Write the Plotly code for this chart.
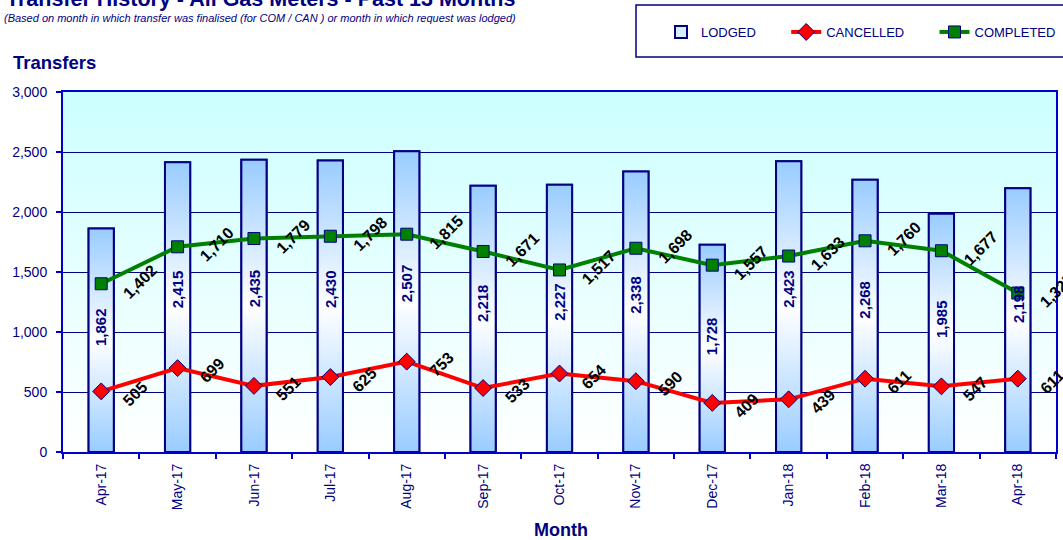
import base64
import plotly.graph_objects as go

months = ["Apr-17", "May-17", "Jun-17", "Jul-17", "Aug-17", "Sep-17", "Oct-17",
          "Nov-17", "Dec-17", "Jan-18", "Feb-18", "Mar-18", "Apr-18"]
lodged = [1862, 2415, 2435, 2430, 2507, 2218, 2227, 2338, 1728, 2423, 2268, 1985, 2198]
cancelled = [505, 699, 551, 625, 753, 533, 654, 590, 409, 439, 611, 547, 611]
completed = [1402, 1710, 1779, 1798, 1815, 1671, 1517, 1698, 1557, 1633, 1760, 1677, 1325]

NAVY = "#000080"
AXIS = "#0000cc"
FONT = "Liberation Sans, Arial, sans-serif"
BAR_W = 0.33
PAD = "\u00a0" * 7
LINE_LBL_SIZE = 16
BAR_LBL_SIZE = 15
xs = list(range(len(months)))

L, R, T, B = 63, 7, 92, 88
W, H = 1063, 540
PW, PH = W - L - R, H - T - B


def px(xpix):
    return (xpix - L) / PW


def py(ypix):
    return (H - B - ypix) / PH


def text_len(s, size):
    # approximate Arial bold advance width of a number label
    return size * sum(0.278 if c == "," else 0.556 for c in s)


fig = go.Figure()

# LODGED bars (real bar trace, used for legend and base)
fig.add_trace(go.Bar(
    x=xs, y=lodged, name="LODGED" + PAD, width=BAR_W,
    marker=dict(color="#d8ecff", line=dict(color=NAVY, width=2)),
    hoverinfo="skip",
))

# gradient overlay for each bar, derived from the same lodged values
for i, v in enumerate(lodged):
    fig.add_trace(go.Scatter(
        x=[i - BAR_W / 2, i + BAR_W / 2, i + BAR_W / 2, i - BAR_W / 2, i - BAR_W / 2],
        y=[0, 0, v, v, 0],
        mode="lines", fill="toself",
        fillgradient=dict(type="vertical",
                          colorscale=[[0, "#99ccff"], [0.5, "#ffffff"], [1, "#99ccff"]]),
        line=dict(color=NAVY, width=2),
        showlegend=False, hoverinfo="skip",
    ))

fig.add_trace(go.Scatter(
    x=xs, y=cancelled, name="CANCELLED" + PAD, mode="lines+markers",
    line=dict(color="#ff0000", width=4),
    marker=dict(symbol="diamond", size=13, color="#ff0000", line=dict(color=NAVY, width=1)),
))
fig.add_trace(go.Scatter(
    x=xs, y=completed, name="COMPLETED", mode="lines+markers",
    line=dict(color="#008000", width=4),
    marker=dict(symbol="square", size=12, color="#008000", line=dict(color=NAVY, width=1)),
))

annotations = []
for i, v in enumerate(lodged):
    annotations.append(dict(x=i, y=v * 0.56, xref="x", yref="y", text=f"<b>{v:,}</b>",
                            showarrow=False, textangle=-90,
                            font=dict(family=FONT, size=BAR_LBL_SIZE, color=NAVY)))
for series in (cancelled, completed):
    for i, v in enumerate(series):
        s = f"{v:,}"
        half = 0.354 * text_len(s, LINE_LBL_SIZE)
        annotations.append(dict(x=i, y=v, xref="x", yref="y", text=f"<b>{s}</b>",
                                showarrow=False, textangle=-45,
                                xshift=25 + half, yshift=half - 12,
                                font=dict(family=FONT, size=LINE_LBL_SIZE, color="#000000")))

annotations += [
    dict(x=px(4), y=py(-1), xref="paper", yref="paper",
         text="<b>Transfer History - All Gas Meters - Past 13 Months</b>",
         showarrow=False, xanchor="left", yanchor="middle",
         font=dict(family=FONT, size=21.5, color=NAVY)),
    dict(x=px(2), y=py(18), xref="paper", yref="paper",
         text="<i>(Based on month in which transfer was finalised (for COM / CAN ) or month in which request was lodged)</i>",
         showarrow=False, xanchor="left", yanchor="middle",
         font=dict(family=FONT, size=11, color=NAVY)),
    dict(x=px(11), y=py(62), xref="paper", yref="paper",
         text="<b>Transfers</b>", showarrow=False, xanchor="left", yanchor="middle",
         font=dict(family=FONT, size=18.5, color=NAVY)),
    dict(x=px(561), y=py(530), xref="paper", yref="paper",
         text="<b>Month</b>", showarrow=False, xanchor="center", yanchor="middle",
         font=dict(family=FONT, size=18, color=NAVY)),
]

svg = ("<svg xmlns='http://www.w3.org/2000/svg' width='10' height='100' viewBox='0 0 10 100' "
       "preserveAspectRatio='none'><defs><linearGradient id='g' x1='0' y1='0' x2='0' y2='1'>"
       "<stop offset='0' stop-color='#ccffff'/><stop offset='1' stop-color='#ffffff'/>"
       "</linearGradient></defs><rect width='10' height='100' fill='url(#g)'/></svg>")
bg_src = "data:image/svg+xml;base64," + base64.b64encode(svg.encode()).decode()

fig.update_layout(
    width=W, height=H,
    margin=dict(l=L, r=R, t=T, b=B, autoexpand=False),
    paper_bgcolor="white", plot_bgcolor="rgba(0,0,0,0)",
    font=dict(family=FONT, color=NAVY),
    showlegend=True,
    legend=dict(orientation="h", x=px(661), y=py(32), xanchor="left", yanchor="middle",
                bgcolor="rgba(0,0,0,0)", borderwidth=0,
                font=dict(family=FONT, size=13, color=NAVY)),
    annotations=annotations,
    images=[dict(source=bg_src, xref="paper", yref="paper", x=0, y=1, sizex=1, sizey=1,
                 xanchor="left", yanchor="top", sizing="stretch", layer="below")],
    shapes=[dict(type="rect", xref="paper", yref="paper",
                 x0=px(636), x1=px(1075), y0=py(57), y1=py(5),
                 line=dict(color=NAVY, width=1.5), fillcolor="white", layer="below")],
)
fig.update_xaxes(
    range=[-0.5, len(months) - 0.5], tickmode="array", tickvals=xs, ticktext=months,
    tickangle=-90, ticks="", showgrid=False, zeroline=False,
    showline=True, linecolor=AXIS, linewidth=2, mirror=True,
    tickfont=dict(family=FONT, size=14, color=NAVY), ticklabelstandoff=4,
    minor=dict(tickmode="array", tickvals=[i - 0.5 for i in range(len(months) + 1)],
               ticks="outside", ticklen=5, tickcolor=AXIS, tickwidth=1.5, showgrid=False),
)
fig.update_yaxes(
    range=[0, 3000], dtick=500, tickformat=",", showgrid=True, gridcolor=NAVY, gridwidth=1,
    zeroline=False, showline=True, linecolor=AXIS, linewidth=2, mirror=True,
    ticks="outside", ticklen=5, tickcolor=AXIS, tickwidth=1.5,
    tickfont=dict(family=FONT, size=14, color=NAVY), ticklabelstandoff=6,
)

fig.write_html("out.html", config={"displayModeBar": False},
               post_script="document.body.style.margin='0';")
